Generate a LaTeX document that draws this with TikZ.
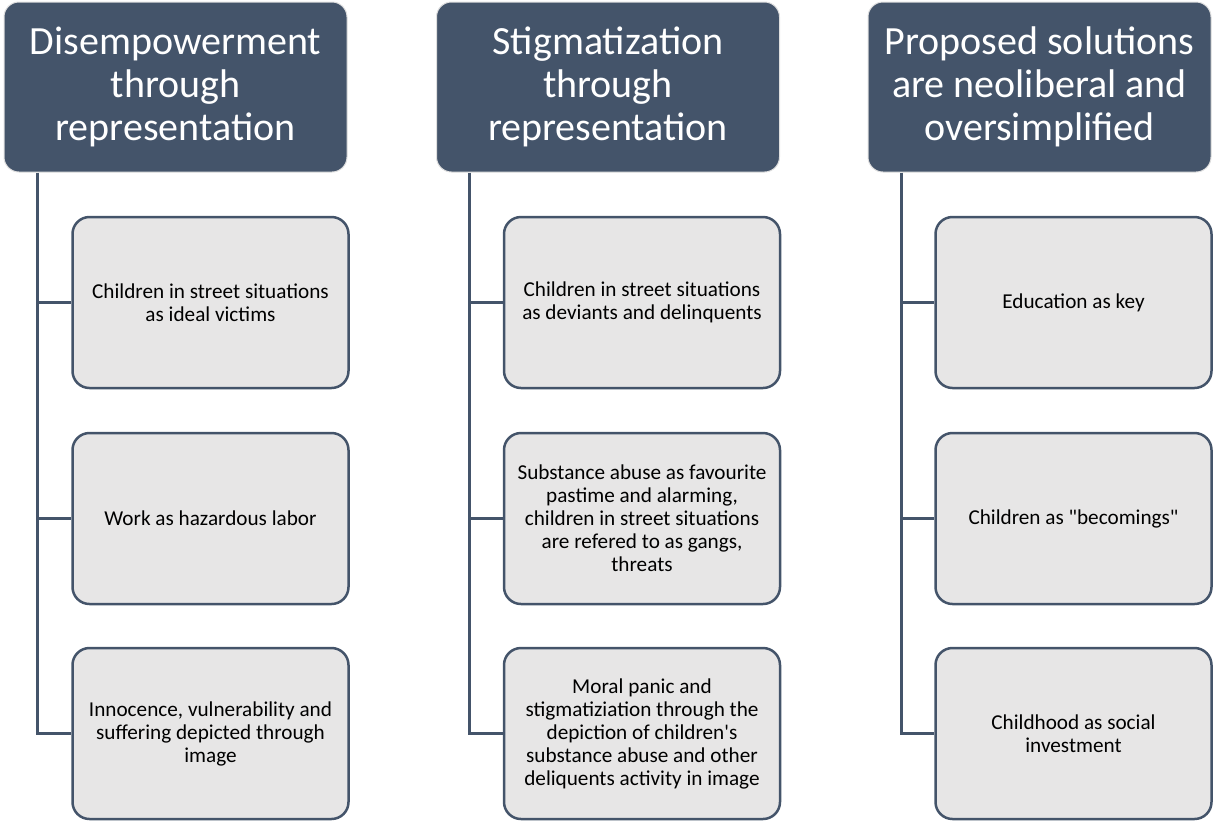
\documentclass[tikz,border=0pt]{standalone}
\usepackage{fontspec}
\setmainfont{Carlito}
\definecolor{slate}{HTML}{44546A}
\definecolor{pale}{HTML}{E7E6E6}
\begin{document}
\begin{tikzpicture}[x=1pt,y=-1pt,
    head/.style={draw=gray!25,line width=1pt,fill=slate,text=white,rounded corners=15pt,
        minimum width=343pt,minimum height=170pt,align=center,
        font=\fontsize{40}{43}\selectfont},
    item/.style={draw=slate,line width=2.5pt,fill=pale,rounded corners=17pt,
        minimum width=276pt,minimum height=171pt,align=center,
        font=\fontsize{21.2}{23}\selectfont},
    link/.style={draw=slate,line width=3pt}]
    \useasboundingbox (0,0) rectangle (1213,820);
    % headers
    \node[head] (h1) at (175.5,87) {Disempowerment\\through\\representation};
    \node[head] (h2) at (608,87) {Stigmatization\\through\\representation};
    \node[head] (h3) at (1039.5,87) {Proposed solutions\\are neoliberal and\\oversimplified};
    % first column
    \node[item] (c1a) at (210.5,302.5) {Children in street situations\\as ideal victims};
    \node[item] (c1b) at (210.5,518.5) {Work as hazardous labor};
    \node[item] (c1c) at (210.5,733.5) {Innocence, vulnerability and\\suffering depicted through\\image};
    % second column
    \node[item] (c2a) at (642,302.5) {Children in street situations\\as deviants and delinquents};
    \node[item] (c2b) at (642,518.5) {Substance abuse as favourite\\pastime and alarming,\\children in street situations\\are refered to as gangs,\\threats};
    \node[item] (c2c) at (642,733.5) {Moral panic and\\stigmatiziation through the\\depiction of children\textquotesingle s\\substance abuse and other\\deliquents activity in image};
    % third column
    \node[item] (c3a) at (1073.5,302.5) {Education as key};
    \node[item] (c3b) at (1073.5,518.5) {Children as \textquotedbl becomings\textquotedbl};
    \node[item] (c3c) at (1073.5,733.5) {Childhood as social\\investment};
    % trunks
    \coordinate (t1) at (37.5,0);
    \coordinate (t2) at (469.5,0);
    \coordinate (t3) at (901.5,0);
    \draw[link] (t1 |- h1.south) |- (c1c.west);
    \draw[link] (t1 |- c1a.west) -- (c1a.west);
    \draw[link] (t1 |- c1b.west) -- (c1b.west);
    \draw[link] (t2 |- h2.south) |- (c2c.west);
    \draw[link] (t2 |- c2a.west) -- (c2a.west);
    \draw[link] (t2 |- c2b.west) -- (c2b.west);
    \draw[link] (t3 |- h3.south) |- (c3c.west);
    \draw[link] (t3 |- c3a.west) -- (c3a.west);
    \draw[link] (t3 |- c3b.west) -- (c3b.west);
\end{tikzpicture}
\end{document}
